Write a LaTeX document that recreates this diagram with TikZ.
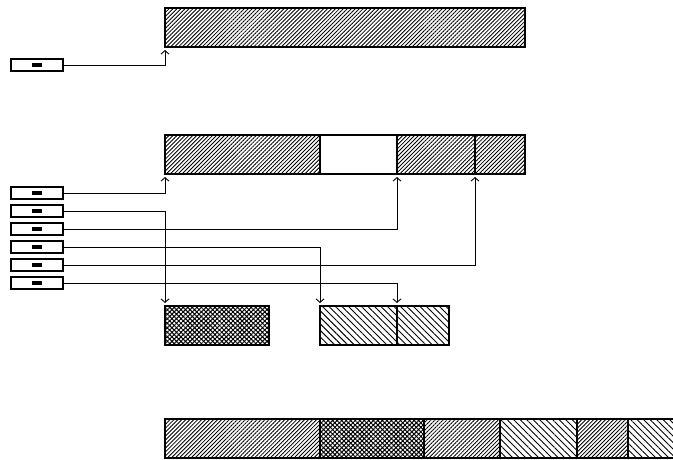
\documentclass[tikz,border=0pt]{standalone}
\usetikzlibrary{arrows.meta,patterns.meta,positioning}
\tikzset{
  seg/.style    = {draw, line width=1.1pt, rectangle, inner sep=0pt, outer sep=0pt,
                   minimum height=39pt, anchor=north west},
  fwd/.style    = {pattern={Lines[angle=45,distance=2.8pt,line width=0.85pt]}},
  bwd/.style    = {pattern={Lines[angle=-45,distance=4.6pt,line width=0.9pt]}},
  mesh/.style   = {pattern={Hatch[angle=45,distance=3.2pt,line width=1pt]}},
  ptrbox/.style = {draw, line width=1.1pt, rectangle, inner sep=0pt,
                   minimum width=52pt, minimum height=12pt},
  ptr/.style    = {line width=0.9pt, -{Straight Barb[length=3.5pt,width=8pt]}, shorten >=3pt},
}
\newcommand{\dash}{\rule[-2pt]{10pt}{4pt}}
\begin{document}
\begin{tikzpicture}[x=1pt, y=-1pt]
\useasboundingbox (0,0) rectangle (673,459);
\clip (0,0) rectangle (673,459);
% ---- first block and its pointer ----
\node[seg,fwd,minimum width=360pt] (t) at (165,8) {};
\node[ptrbox] (p0) at (37,65) {\dash};
\draw[ptr] (p0.east) -| (t.south west);
% ---- second block ----
\node[seg,fwd,minimum width=155pt] (a1) at (165,135) {};
\node[seg,minimum width=77pt,right=0pt of a1] (a2) {};
\node[seg,fwd,minimum width=78pt,right=0pt of a2] (a3) {};
\node[seg,fwd,minimum width=50pt,right=0pt of a3] (a4) {};
% ---- pointer table ----
\foreach \i in {1,...,6}
  \node[ptrbox] (p\i) at (37,{193+18*(\i-1)}) {\dash};
% ---- small blocks ----
\node[seg,mesh,minimum width=104pt] (c1) at (165,306) {};
\node[seg,bwd,minimum width=77pt] (c2) at (320,306) {};
\node[seg,bwd,minimum width=52pt,right=0pt of c2] (c3) {};
% ---- pointers ----
\draw[ptr] (p1.east) -| (a1.south west);
\draw[ptr] (p2.east) -| (c1.north west);
\draw[ptr] (p3.east) -| (a3.south west);
\draw[ptr] (p4.east) -| (c2.north west);
\draw[ptr] (p5.east) -| (a4.south west);
\draw[ptr] (p6.east) -| (c3.north west);
% ---- compacted block ----
\node[seg,fwd,minimum width=155pt] (b1) at (165,419) {};
\node[seg,mesh,minimum width=104pt,right=0pt of b1] (b2) {};
\node[seg,fwd,minimum width=76pt,right=0pt of b2] (b3) {};
\node[seg,bwd,minimum width=77pt,right=0pt of b3] (b4) {};
\node[seg,fwd,minimum width=51pt,right=0pt of b4] (b5) {};
\node[seg,bwd,minimum width=60pt,right=0pt of b5] (b6) {};
\end{tikzpicture}
\end{document}
